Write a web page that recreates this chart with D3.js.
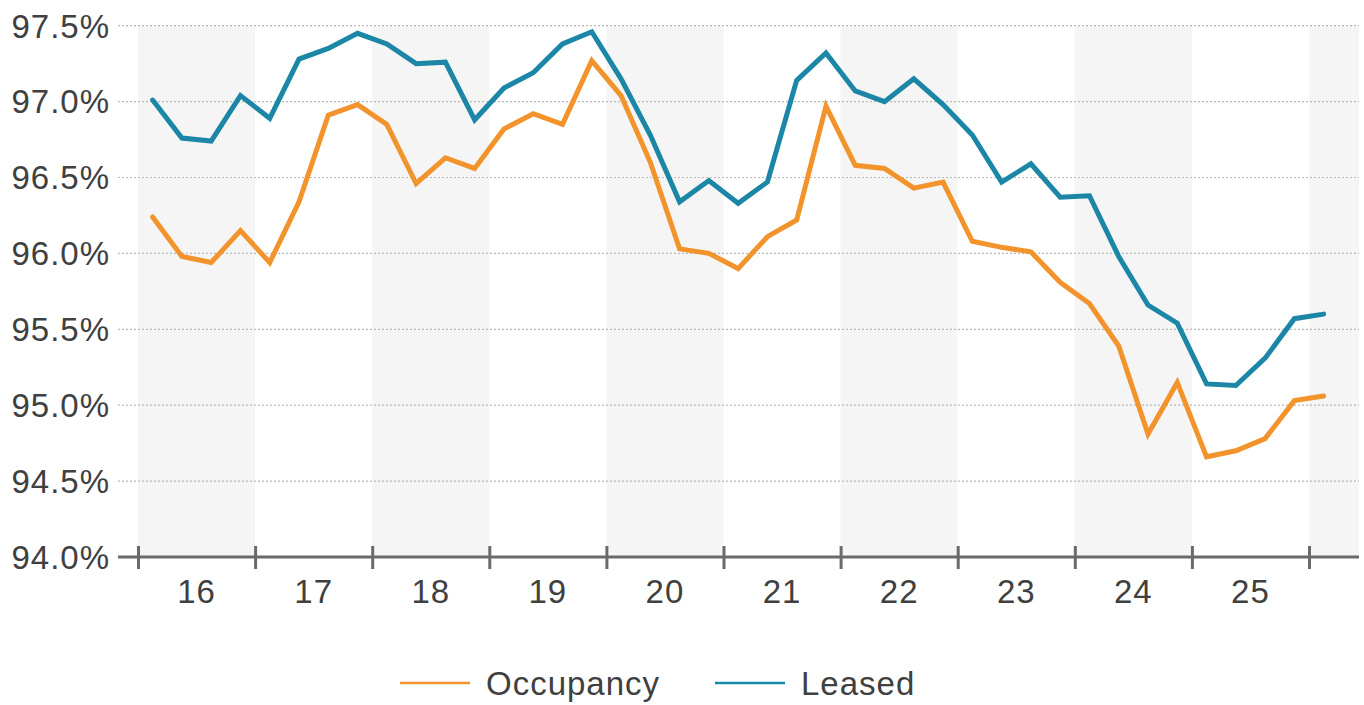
<!DOCTYPE html>
<html>
<head>
<meta charset="utf-8">
<script src="https://cdn.jsdelivr.net/npm/d3@7"></script>
<style>
  body { margin: 0; background: #fff; }
  svg { display: block; font-family: "Liberation Sans", Arial, sans-serif; }
  .grid line { stroke: #b8b8b8; stroke-width: 1.2; stroke-dasharray: 2,2; }
  .lbl { fill: #404040; font-size: 33px; letter-spacing: 1px; }
</style>
</head>
<body>
<svg id="chart" width="1364" height="705"></svg>
<script>
// Quarterly series, 2016 Q1 .. 2026 Q1
const years = [16, 17, 18, 19, 20, 21, 22, 23, 24, 25];
const yTicks = [94.0, 94.5, 95.0, 95.5, 96.0, 96.5, 97.0, 97.5];

const occupancy = [
  96.24, 95.98, 95.94, 96.15,
  95.94, 96.34, 96.91, 96.98,
  96.85, 96.46, 96.63, 96.56,
  96.82, 96.92, 96.85, 97.27,
  97.04, 96.60, 96.03, 96.00,
  95.90, 96.11, 96.22, 96.97,
  96.58, 96.56, 96.43, 96.47,
  96.08, 96.04, 96.01, 95.81,
  95.67, 95.39, 94.81, 95.15,
  94.66, 94.70, 94.78, 95.03,
  95.06
];

const leased = [
  97.01, 96.76, 96.74, 97.04,
  96.89, 97.28, 97.35, 97.45,
  97.38, 97.25, 97.26, 96.88,
  97.09, 97.19, 97.38, 97.46,
  97.15, 96.78, 96.34, 96.48,
  96.33, 96.47, 97.14, 97.32,
  97.07, 97.00, 97.15, 96.98,
  96.78, 96.47, 96.59, 96.37,
  96.38, 95.98, 95.66, 95.54,
  95.14, 95.13, 95.31, 95.57,
  95.60
];

const series = [
  { name: 'Occupancy', values: occupancy, color: '#f2932b' },
  { name: 'Leased', values: leased, color: '#1b86a6' }
];

const svg = d3.select('#chart');

const x = d3.scaleLinear().domain([16, 26]).range([138, 1309]);
const y = d3.scaleLinear().domain([94, 97.5]).range([557, 25.7]);
const xEnd = 1359;
const gridStart = 118;

// alternating year bands
const bandYears = [16, 18, 20, 22, 24, 26];
svg.append('g')
  .selectAll('rect')
  .data(bandYears)
  .join('rect')
  .attr('x', d => x(d))
  .attr('y', y(97.5))
  .attr('width', d => Math.min(x(d + 1), xEnd) - x(d))
  .attr('height', y(94) - y(97.5))
  .attr('fill', '#f5f5f5');

// dotted gridlines
svg.append('g')
  .attr('class', 'grid')
  .selectAll('line')
  .data(yTicks.filter(t => t > 94))
  .join('line')
  .attr('x1', gridStart)
  .attr('x2', xEnd)
  .attr('y1', d => y(d))
  .attr('y2', d => y(d));

// y labels
svg.append('g')
  .selectAll('text')
  .data(yTicks)
  .join('text')
  .attr('class', 'lbl')
  .attr('x', 110)
  .attr('y', d => y(d))
  .attr('dy', '0.36em')
  .attr('text-anchor', 'end')
  .text(d => d.toFixed(1) + '%');

// x axis
const xAxis = d3.axisBottom(x)
  .tickValues(d3.range(16, 27))
  .tickSize(0)
  .tickFormat('');
const gx = svg.append('g').attr('transform', `translate(0,${y(94)})`).call(xAxis);
gx.select('.domain').remove();
gx.append('line')
  .attr('x1', gridStart).attr('x2', xEnd)
  .attr('stroke', '#6a6a6a').attr('stroke-width', 3);
gx.selectAll('.tick line')
  .attr('y1', -11).attr('y2', 12)
  .attr('stroke', '#6a6a6a').attr('stroke-width', 3);

svg.append('g')
  .selectAll('text')
  .data(years)
  .join('text')
  .attr('class', 'lbl')
  .attr('x', d => x(d + 0.5))
  .attr('y', 603)
  .attr('text-anchor', 'middle')
  .text(d => d);

// lines
const line = d3.line()
  .x((d, i) => x(16 + (i + 0.5) / 4))
  .y(d => y(d));

svg.append('g')
  .selectAll('path')
  .data(series)
  .join('path')
  .attr('d', d => line(d.values))
  .attr('fill', 'none')
  .attr('stroke', d => d.color)
  .attr('stroke-width', 5)
  .attr('stroke-linejoin', 'miter')
  .attr('stroke-linecap', 'round');

// legend
const legendPos = [400, 715];
const lg = svg.append('g')
  .selectAll('g')
  .data(series)
  .join('g')
  .attr('transform', (d, i) => `translate(${legendPos[i]},683)`);
lg.append('line')
  .attr('x1', 0).attr('x2', 70)
  .attr('stroke', d => d.color)
  .attr('stroke-width', 2.5);
lg.append('text')
  .attr('class', 'lbl')
  .attr('x', 86)
  .attr('dy', '0.36em')
  .text(d => d.name);
</script>
</body>
</html>
